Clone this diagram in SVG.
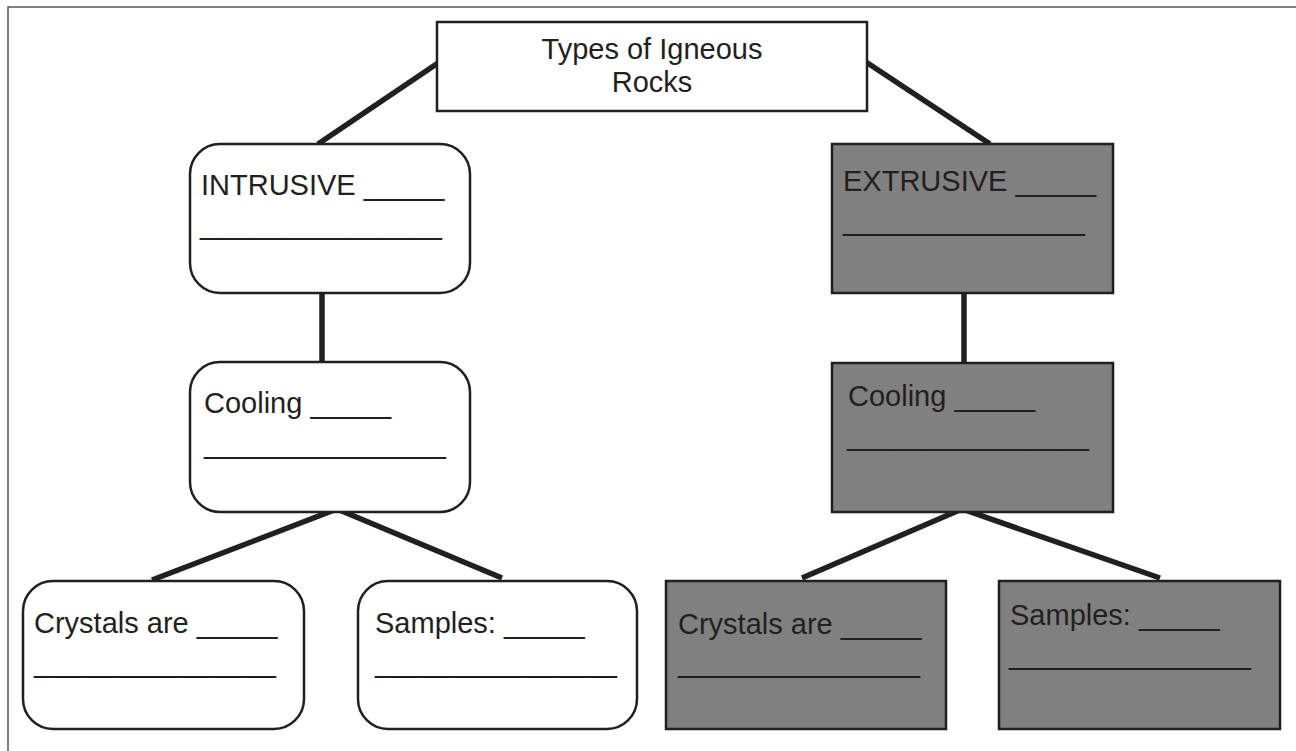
<svg xmlns="http://www.w3.org/2000/svg" width="1296" height="751" viewBox="0 0 1296 751">
<style>
.box{fill:#ffffff;stroke:#231f20;stroke-width:2.5}
.dark{fill:#808080;stroke:#231f20;stroke-width:2.5}
.t{font-family:"Liberation Sans",Arial,sans-serif;font-size:29px;fill:#231f20}
.c{stroke:#231f20;stroke-width:5.5;fill:none;stroke-linecap:butt}
.frame{stroke:#555555;stroke-width:1.5;fill:none}
</style>
<rect width="1296" height="751" fill="#ffffff"/>
<path class="frame" d="M8,751 V7 H1296"/>
<g id="connectors">
<line class="c" x1="438" y1="63" x2="318" y2="144"/>
<line class="c" x1="866" y1="62" x2="990" y2="144"/>
<line class="c" x1="322" y1="293" x2="322" y2="362"/>
<line class="c" x1="964" y1="293" x2="964" y2="363"/>
<polyline class="c" points="152,580 337,509 502,578"/>
<polyline class="c" points="802,578 962,509 1160,578"/>
</g>
<g id="title">
<rect class="box" x="437" y="22" width="430" height="89"/>
<text class="t" x="652" y="59" text-anchor="middle">Types of Igneous</text>
<text class="t" x="652" y="92" text-anchor="middle">Rocks</text>
</g>
<g id="intrusive">
<rect class="box" x="190" y="144" width="280" height="149" rx="30"/>
<text class="t" x="201" y="195">INTRUSIVE _____</text>
<text class="t" x="200" y="234">_______________</text>
</g>
<g id="extrusive">
<rect class="dark" x="832" y="144" width="281" height="149"/>
<text class="t" x="843" y="191">EXTRUSIVE _____</text>
<text class="t" x="843" y="230">_______________</text>
</g>
<g id="cooling-intrusive">
<rect class="box" x="190" y="362" width="280" height="150" rx="30"/>
<text class="t" x="204" y="413">Cooling _____</text>
<text class="t" x="204" y="453">_______________</text>
</g>
<g id="cooling-extrusive">
<rect class="dark" x="832" y="363" width="281" height="149"/>
<text class="t" x="848" y="406">Cooling _____</text>
<text class="t" x="847" y="445">_______________</text>
</g>
<g id="crystals-intrusive">
<rect class="box" x="23" y="581" width="281" height="148" rx="30"/>
<text class="t" x="34" y="633">Crystals are _____</text>
<text class="t" x="34" y="672">_______________</text>
</g>
<g id="samples-intrusive">
<rect class="box" x="358" y="581" width="279" height="148" rx="30"/>
<text class="t" x="375" y="633">Samples: _____</text>
<text class="t" x="375" y="672">_______________</text>
</g>
<g id="crystals-extrusive">
<rect class="dark" x="666" y="581" width="280" height="148"/>
<text class="t" x="678" y="634">Crystals are _____</text>
<text class="t" x="678" y="672">_______________</text>
</g>
<g id="samples-extrusive">
<rect class="dark" x="999" y="581" width="281" height="148"/>
<text class="t" x="1010" y="625">Samples: _____</text>
<text class="t" x="1009" y="664">_______________</text>
</g>
</svg>
